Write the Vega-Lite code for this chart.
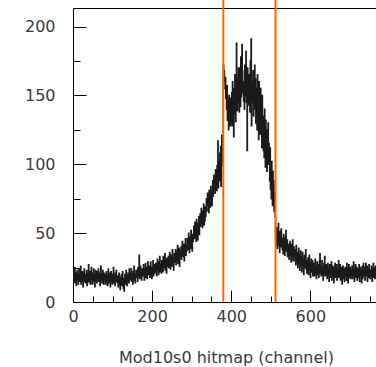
{
"$schema":"https://vega.github.io/schema/vega-lite/v6.json",
"width":303,"height":294,
"autosize":{"type":"none"},
"padding":{"left":73,"top":8,"right":0,"bottom":65},
"background":"white",
"config":{"view":{"stroke":null},"axis":{"grid":false}},
"datasets":{"h":[
{"c":0,"n":18},{"c":1,"n":22},{"c":2,"n":15},{"c":3,"n":19},{"c":4,"n":25},{"c":5,"n":14},{"c":6,"n":17},{"c":7,"n":21},{"c":8,"n":12},{"c":9,"n":19},{"c":10,"n":23},{"c":11,"n":16},{"c":12,"n":20},{"c":13,"n":13},{"c":14,"n":18},{"c":15,"n":24},
{"c":16,"n":15},{"c":17,"n":20},{"c":18,"n":17},{"c":19,"n":26},{"c":20,"n":13},{"c":21,"n":19},{"c":22,"n":16},{"c":23,"n":22},{"c":24,"n":18},{"c":25,"n":11},{"c":26,"n":21},{"c":27,"n":17},{"c":28,"n":24},{"c":29,"n":15},{"c":30,"n":19},{"c":31,"n":14},
{"c":32,"n":20},{"c":33,"n":16},{"c":34,"n":23},{"c":35,"n":12},{"c":36,"n":18},{"c":37,"n":21},{"c":38,"n":15},{"c":39,"n":27},{"c":40,"n":17},{"c":41,"n":14},{"c":42,"n":19},{"c":43,"n":22},{"c":44,"n":13},{"c":45,"n":18},{"c":46,"n":25},{"c":47,"n":16},
{"c":48,"n":19},{"c":49,"n":13},{"c":50,"n":21},{"c":51,"n":17},{"c":52,"n":24},{"c":53,"n":15},{"c":54,"n":20},{"c":55,"n":11},{"c":56,"n":18},{"c":57,"n":23},{"c":58,"n":16},{"c":59,"n":19},{"c":60,"n":14},{"c":61,"n":22},{"c":62,"n":17},{"c":63,"n":20},
{"c":64,"n":24},{"c":65,"n":15},{"c":66,"n":18},{"c":67,"n":21},{"c":68,"n":12},{"c":69,"n":19},{"c":70,"n":26},{"c":71,"n":16},{"c":72,"n":20},{"c":73,"n":14},{"c":74,"n":17},{"c":75,"n":23},{"c":76,"n":18},{"c":77,"n":13},{"c":78,"n":21},{"c":79,"n":19},
{"c":80,"n":16},{"c":81,"n":20},{"c":82,"n":13},{"c":83,"n":18},{"c":84,"n":22},{"c":85,"n":15},{"c":86,"n":19},{"c":87,"n":12},{"c":88,"n":17},{"c":89,"n":24},{"c":90,"n":14},{"c":91,"n":18},{"c":92,"n":21},{"c":93,"n":16},{"c":94,"n":11},{"c":95,"n":19},
{"c":96,"n":22},{"c":97,"n":15},{"c":98,"n":18},{"c":99,"n":13},{"c":100,"n":20},{"c":101,"n":17},{"c":102,"n":25},{"c":103,"n":14},{"c":104,"n":19},{"c":105,"n":16},{"c":106,"n":12},{"c":107,"n":21},{"c":108,"n":17},{"c":109,"n":23},{"c":110,"n":15},{"c":111,"n":18},
{"c":112,"n":14},{"c":113,"n":19},{"c":114,"n":11},{"c":115,"n":17},{"c":116,"n":21},{"c":117,"n":13},{"c":118,"n":16},{"c":119,"n":9},{"c":120,"n":18},{"c":121,"n":15},{"c":122,"n":20},{"c":123,"n":12},{"c":124,"n":16},{"c":125,"n":22},{"c":126,"n":14},{"c":127,"n":10},
{"c":128,"n":17},{"c":129,"n":8},{"c":130,"n":15},{"c":131,"n":20},{"c":132,"n":13},{"c":133,"n":18},{"c":134,"n":23},{"c":135,"n":16},{"c":136,"n":12},{"c":137,"n":19},{"c":138,"n":15},{"c":139,"n":21},{"c":140,"n":17},{"c":141,"n":14},{"c":142,"n":24},{"c":143,"n":18},
{"c":144,"n":21},{"c":145,"n":16},{"c":146,"n":19},{"c":147,"n":24},{"c":148,"n":15},{"c":149,"n":20},{"c":150,"n":17},{"c":151,"n":13},{"c":152,"n":22},{"c":153,"n":18},{"c":154,"n":26},{"c":155,"n":16},{"c":156,"n":20},{"c":157,"n":14},{"c":158,"n":19},{"c":159,"n":23},
{"c":160,"n":18},{"c":161,"n":23},{"c":162,"n":20},{"c":163,"n":15},{"c":164,"n":25},{"c":165,"n":21},{"c":166,"n":19},{"c":167,"n":34},{"c":168,"n":17},{"c":169,"n":22},{"c":170,"n":26},{"c":171,"n":18},{"c":172,"n":21},{"c":173,"n":16},{"c":174,"n":24},{"c":175,"n":20},
{"c":176,"n":23},{"c":177,"n":19},{"c":178,"n":27},{"c":179,"n":21},{"c":180,"n":16},{"c":181,"n":24},{"c":182,"n":20},{"c":183,"n":28},{"c":184,"n":18},{"c":185,"n":22},{"c":186,"n":25},{"c":187,"n":17},{"c":188,"n":23},{"c":189,"n":29},{"c":190,"n":20},{"c":191,"n":24},
{"c":192,"n":21},{"c":193,"n":26},{"c":194,"n":18},{"c":195,"n":24},{"c":196,"n":29},{"c":197,"n":20},{"c":198,"n":23},{"c":199,"n":17},{"c":200,"n":25},{"c":201,"n":22},{"c":202,"n":30},{"c":203,"n":19},{"c":204,"n":24},{"c":205,"n":27},{"c":206,"n":21},{"c":207,"n":26},
{"c":208,"n":22},{"c":209,"n":28},{"c":210,"n":24},{"c":211,"n":19},{"c":212,"n":27},{"c":213,"n":31},{"c":214,"n":23},{"c":215,"n":26},{"c":216,"n":20},{"c":217,"n":29},{"c":218,"n":25},{"c":219,"n":33},{"c":220,"n":22},{"c":221,"n":27},{"c":222,"n":24},{"c":223,"n":21},
{"c":224,"n":30},{"c":225,"n":24},{"c":226,"n":28},{"c":227,"n":22},{"c":228,"n":33},{"c":229,"n":26},{"c":230,"n":29},{"c":231,"n":25},{"c":232,"n":35},{"c":233,"n":23},{"c":234,"n":27},{"c":235,"n":31},{"c":236,"n":21},{"c":237,"n":28},{"c":238,"n":32},{"c":239,"n":26},
{"c":240,"n":27},{"c":241,"n":33},{"c":242,"n":25},{"c":243,"n":30},{"c":244,"n":36},{"c":245,"n":28},{"c":246,"n":24},{"c":247,"n":31},{"c":248,"n":34},{"c":249,"n":26},{"c":250,"n":29},{"c":251,"n":38},{"c":252,"n":27},{"c":253,"n":32},{"c":254,"n":23},{"c":255,"n":30},
{"c":256,"n":35},{"c":257,"n":29},{"c":258,"n":33},{"c":259,"n":38},{"c":260,"n":27},{"c":261,"n":31},{"c":262,"n":36},{"c":263,"n":30},{"c":264,"n":41},{"c":265,"n":28},{"c":266,"n":34},{"c":267,"n":32},{"c":268,"n":39},{"c":269,"n":26},{"c":270,"n":33},{"c":271,"n":37},
{"c":272,"n":34},{"c":273,"n":40},{"c":274,"n":31},{"c":275,"n":37},{"c":276,"n":44},{"c":277,"n":33},{"c":278,"n":38},{"c":279,"n":35},{"c":280,"n":42},{"c":281,"n":30},{"c":282,"n":39},{"c":283,"n":36},{"c":284,"n":46},{"c":285,"n":34},{"c":286,"n":41},{"c":287,"n":37},
{"c":288,"n":40},{"c":289,"n":46},{"c":290,"n":38},{"c":291,"n":43},{"c":292,"n":50},{"c":293,"n":41},{"c":294,"n":36},{"c":295,"n":47},{"c":296,"n":44},{"c":297,"n":39},{"c":298,"n":52},{"c":299,"n":42},{"c":300,"n":45},{"c":301,"n":37},{"c":302,"n":49},{"c":303,"n":44},
{"c":304,"n":48},{"c":305,"n":55},{"c":306,"n":46},{"c":307,"n":51},{"c":308,"n":58},{"c":309,"n":47},{"c":310,"n":53},{"c":311,"n":44},{"c":312,"n":60},{"c":313,"n":50},{"c":314,"n":54},{"c":315,"n":45},{"c":316,"n":57},{"c":317,"n":52},{"c":318,"n":62},{"c":319,"n":49},
{"c":320,"n":58},{"c":321,"n":64},{"c":322,"n":55},{"c":323,"n":61},{"c":324,"n":68},{"c":325,"n":57},{"c":326,"n":63},{"c":327,"n":54},{"c":328,"n":66},{"c":329,"n":60},{"c":330,"n":71},{"c":331,"n":56},{"c":332,"n":65},{"c":333,"n":59},{"c":334,"n":69},{"c":335,"n":62},
{"c":336,"n":68},{"c":337,"n":75},{"c":338,"n":66},{"c":339,"n":72},{"c":340,"n":79},{"c":341,"n":70},{"c":342,"n":74},{"c":343,"n":65},{"c":344,"n":81},{"c":345,"n":71},{"c":346,"n":77},{"c":347,"n":69},{"c":348,"n":84},{"c":349,"n":73},{"c":350,"n":78},{"c":351,"n":70},
{"c":352,"n":80},{"c":353,"n":88},{"c":354,"n":77},{"c":355,"n":85},{"c":356,"n":92},{"c":357,"n":82},{"c":358,"n":87},{"c":359,"n":79},{"c":360,"n":96},{"c":361,"n":84},{"c":362,"n":90},{"c":363,"n":81},{"c":364,"n":99},{"c":365,"n":86},{"c":366,"n":117},{"c":367,"n":83},
{"c":368,"n":94},{"c":369,"n":102},{"c":370,"n":88},{"c":371,"n":108},{"c":372,"n":97},{"c":373,"n":113},{"c":374,"n":84},{"c":375,"n":104},{"c":376,"n":121},{"c":377,"n":99},{"c":378,"n":118},{"c":379,"n":110},
{"c":380,"n":172},{"c":381,"n":165},{"c":382,"n":168},{"c":383,"n":160},{"c":384,"n":155},{"c":385,"n":163},{"c":386,"n":148},{"c":387,"n":152},{"c":388,"n":140},{"c":389,"n":157},{"c":390,"n":132},{"c":391,"n":146},{"c":392,"n":138},{"c":393,"n":125},{"c":394,"n":150},{"c":395,"n":142},{"c":396,"n":135},{"c":397,"n":128},{"c":398,"n":148},{"c":399,"n":130},
{"c":400,"n":135},{"c":401,"n":152},{"c":402,"n":128},{"c":403,"n":160},{"c":404,"n":141},{"c":405,"n":148},{"c":406,"n":120},{"c":407,"n":155},{"c":408,"n":137},{"c":409,"n":165},{"c":410,"n":143},{"c":411,"n":131},{"c":412,"n":158},{"c":413,"n":188},{"c":414,"n":150},{"c":415,"n":139},
{"c":416,"n":162},{"c":417,"n":145},{"c":418,"n":170},{"c":419,"n":150},{"c":420,"n":138},{"c":421,"n":170},{"c":422,"n":155},{"c":423,"n":142},{"c":424,"n":178},{"c":425,"n":149},{"c":426,"n":160},{"c":427,"n":187},{"c":428,"n":168},{"c":429,"n":152},{"c":430,"n":160},{"c":431,"n":146},
{"c":432,"n":158},{"c":433,"n":140},{"c":434,"n":172},{"c":435,"n":150},{"c":436,"n":165},{"c":437,"n":182},{"c":438,"n":145},{"c":439,"n":155},{"c":440,"n":110},{"c":441,"n":170},{"c":442,"n":160},{"c":443,"n":143},{"c":444,"n":165},{"c":445,"n":152},{"c":446,"n":165},{"c":447,"n":138},
{"c":448,"n":175},{"c":449,"n":150},{"c":450,"n":191},{"c":451,"n":128},{"c":452,"n":160},{"c":453,"n":155},{"c":454,"n":145},{"c":455,"n":168},{"c":456,"n":135},{"c":457,"n":158},{"c":458,"n":150},{"c":459,"n":172},{"c":460,"n":140},{"c":461,"n":162},{"c":462,"n":130},{"c":463,"n":155},
{"c":464,"n":148},{"c":465,"n":125},{"c":466,"n":165},{"c":467,"n":138},{"c":468,"n":152},{"c":469,"n":118},{"c":470,"n":160},{"c":471,"n":135},{"c":472,"n":145},{"c":473,"n":122},{"c":474,"n":155},{"c":475,"n":130},{"c":476,"n":142},{"c":477,"n":112},{"c":478,"n":150},{"c":479,"n":128},
{"c":480,"n":135},{"c":481,"n":110},{"c":482,"n":128},{"c":483,"n":105},{"c":484,"n":140},{"c":485,"n":118},{"c":486,"n":98},{"c":487,"n":132},{"c":488,"n":112},{"c":489,"n":125},{"c":490,"n":95},{"c":491,"n":120},{"c":492,"n":108},{"c":493,"n":130},{"c":494,"n":100},{"c":495,"n":115},
{"c":496,"n":105},{"c":497,"n":88},{"c":498,"n":112},{"c":499,"n":82},{"c":500,"n":98},{"c":501,"n":75},{"c":502,"n":102},{"c":503,"n":85},{"c":504,"n":70},{"c":505,"n":95},{"c":506,"n":78},{"c":507,"n":88},{"c":508,"n":66},{"c":509,"n":80},{"c":510,"n":72},{"c":511,"n":62},
{"c":512,"n":50},{"c":513,"n":42},{"c":514,"n":54},{"c":515,"n":47},{"c":516,"n":39},{"c":517,"n":52},{"c":518,"n":44},{"c":519,"n":57},{"c":520,"n":41},{"c":521,"n":48},{"c":522,"n":36},{"c":523,"n":51},{"c":524,"n":45},{"c":525,"n":40},{"c":526,"n":53},{"c":527,"n":43},
{"c":528,"n":46},{"c":529,"n":38},{"c":530,"n":44},{"c":531,"n":35},{"c":532,"n":49},{"c":533,"n":40},{"c":534,"n":43},{"c":535,"n":34},{"c":536,"n":47},{"c":537,"n":39},{"c":538,"n":52},{"c":539,"n":37},{"c":540,"n":41},{"c":541,"n":45},{"c":542,"n":33},{"c":543,"n":42},
{"c":544,"n":35},{"c":545,"n":41},{"c":546,"n":31},{"c":547,"n":38},{"c":548,"n":44},{"c":549,"n":34},{"c":550,"n":39},{"c":551,"n":29},{"c":552,"n":42},{"c":553,"n":36},{"c":554,"n":33},{"c":555,"n":45},{"c":556,"n":30},{"c":557,"n":37},{"c":558,"n":40},{"c":559,"n":32},
{"c":560,"n":38},{"c":561,"n":30},{"c":562,"n":35},{"c":563,"n":27},{"c":564,"n":41},{"c":565,"n":33},{"c":566,"n":29},{"c":567,"n":36},{"c":568,"n":25},{"c":569,"n":32},{"c":570,"n":39},{"c":571,"n":28},{"c":572,"n":34},{"c":573,"n":23},{"c":574,"n":31},{"c":575,"n":37},
{"c":576,"n":27},{"c":577,"n":33},{"c":578,"n":22},{"c":579,"n":30},{"c":580,"n":36},{"c":581,"n":26},{"c":582,"n":31},{"c":583,"n":20},{"c":584,"n":29},{"c":585,"n":34},{"c":586,"n":25},{"c":587,"n":28},{"c":588,"n":38},{"c":589,"n":24},{"c":590,"n":30},{"c":591,"n":21},
{"c":592,"n":29},{"c":593,"n":24},{"c":594,"n":32},{"c":595,"n":20},{"c":596,"n":27},{"c":597,"n":34},{"c":598,"n":23},{"c":599,"n":28},{"c":600,"n":18},{"c":601,"n":26},{"c":602,"n":31},{"c":603,"n":22},{"c":604,"n":25},{"c":605,"n":30},{"c":606,"n":19},{"c":607,"n":27},
{"c":608,"n":22},{"c":609,"n":28},{"c":610,"n":19},{"c":611,"n":25},{"c":612,"n":31},{"c":613,"n":21},{"c":614,"n":26},{"c":615,"n":17},{"c":616,"n":24},{"c":617,"n":29},{"c":618,"n":20},{"c":619,"n":27},{"c":620,"n":23},{"c":621,"n":18},{"c":622,"n":26},{"c":623,"n":30},
{"c":624,"n":35},{"c":625,"n":21},{"c":626,"n":26},{"c":627,"n":19},{"c":628,"n":24},{"c":629,"n":30},{"c":630,"n":20},{"c":631,"n":25},{"c":632,"n":16},{"c":633,"n":23},{"c":634,"n":28},{"c":635,"n":21},{"c":636,"n":33},{"c":637,"n":19},{"c":638,"n":24},{"c":639,"n":27},
{"c":640,"n":20},{"c":641,"n":26},{"c":642,"n":17},{"c":643,"n":23},{"c":644,"n":28},{"c":645,"n":19},{"c":646,"n":24},{"c":647,"n":15},{"c":648,"n":22},{"c":649,"n":27},{"c":650,"n":18},{"c":651,"n":25},{"c":652,"n":21},{"c":653,"n":29},{"c":654,"n":16},{"c":655,"n":23},
{"c":656,"n":26},{"c":657,"n":19},{"c":658,"n":22},{"c":659,"n":14},{"c":660,"n":25},{"c":661,"n":21},{"c":662,"n":28},{"c":663,"n":18},{"c":664,"n":23},{"c":665,"n":20},{"c":666,"n":27},{"c":667,"n":16},{"c":668,"n":24},{"c":669,"n":19},{"c":670,"n":22},{"c":671,"n":30},
{"c":672,"n":18},{"c":673,"n":24},{"c":674,"n":21},{"c":675,"n":27},{"c":676,"n":16},{"c":677,"n":23},{"c":678,"n":19},{"c":679,"n":25},{"c":680,"n":13},{"c":681,"n":22},{"c":682,"n":26},{"c":683,"n":17},{"c":684,"n":21},{"c":685,"n":24},{"c":686,"n":15},{"c":687,"n":20},
{"c":688,"n":25},{"c":689,"n":19},{"c":690,"n":23},{"c":691,"n":16},{"c":692,"n":28},{"c":693,"n":20},{"c":694,"n":22},{"c":695,"n":14},{"c":696,"n":24},{"c":697,"n":27},{"c":698,"n":18},{"c":699,"n":21},{"c":700,"n":25},{"c":701,"n":17},{"c":702,"n":23},{"c":703,"n":19},
{"c":704,"n":21},{"c":705,"n":26},{"c":706,"n":17},{"c":707,"n":23},{"c":708,"n":19},{"c":709,"n":29},{"c":710,"n":22},{"c":711,"n":15},{"c":712,"n":24},{"c":713,"n":20},{"c":714,"n":27},{"c":715,"n":18},{"c":716,"n":22},{"c":717,"n":25},{"c":718,"n":16},{"c":719,"n":21},
{"c":720,"n":24},{"c":721,"n":18},{"c":722,"n":22},{"c":723,"n":27},{"c":724,"n":15},{"c":725,"n":21},{"c":726,"n":25},{"c":727,"n":19},{"c":728,"n":23},{"c":729,"n":14},{"c":730,"n":20},{"c":731,"n":26},{"c":732,"n":17},{"c":733,"n":22},{"c":734,"n":28},{"c":735,"n":19},
{"c":736,"n":20},{"c":737,"n":25},{"c":738,"n":16},{"c":739,"n":23},{"c":740,"n":28},{"c":741,"n":19},{"c":742,"n":22},{"c":743,"n":26},{"c":744,"n":15},{"c":745,"n":21},{"c":746,"n":24},{"c":747,"n":18},{"c":748,"n":27},{"c":749,"n":20},{"c":750,"n":23},{"c":751,"n":17},
{"c":752,"n":23},{"c":753,"n":19},{"c":754,"n":26},{"c":755,"n":21},{"c":756,"n":15},{"c":757,"n":24},{"c":758,"n":20},{"c":759,"n":28},{"c":760,"n":18},{"c":761,"n":22},{"c":762,"n":25},{"c":763,"n":17},{"c":764,"n":21},{"c":765,"n":26},{"c":766,"n":19},{"c":767,"n":23}
]},
"layer":[
{
"data":{"name":"h"},
"mark":{"type":"line","interpolate":"step-after","color":"#1a1a1a","strokeWidth":1.4,"clip":true},
"encoding":{
"x":{"field":"c","type":"quantitative","scale":{"domain":[0,766],"nice":false,"zero":false},
"axis":{"orient":"bottom","values":[0,200,400,600],"format":"d","tickSize":-12,"tickColor":"#000","tickWidth":1,"domainColor":"#000","domainWidth":1,"labelFont":"DejaVu Sans","labelFontSize":16,"labelColor":"#3a3a3a","labelPadding":18,"labelFlush":false,"labelOverlap":false,"grid":false,"title":"Mod10s0 hitmap (channel)","titleFont":"DejaVu Sans","titleFontSize":16,"titleFontWeight":"normal","titleColor":"#3a3a3a","titleX":153,"titleY":60,"titleAlign":"center","titleBaseline":"alphabetic"}},
"y":{"field":"n","type":"quantitative","scale":{"domain":[0,213.5],"nice":false,"zero":false},
"axis":{"orient":"left","values":[0,50,100,150,200],"format":"d","tickSize":-13,"tickColor":"#000","tickWidth":1,"domainColor":"#000","domainWidth":1,"labelFont":"DejaVu Sans","labelFontSize":16,"labelColor":"#3a3a3a","labelPadding":31,"labelFlush":false,"labelOverlap":false,"grid":false,"title":null}}
}
},
{
"data":{"values":[{"x":380}]},
"mark":{"type":"rule","color":"#ff6600","strokeWidth":2,"clip":false},
"encoding":{
"x":{"field":"x","type":"quantitative","scale":{"domain":[0,766],"nice":false,"zero":false},
"axis":{"orient":"bottom","values":[50,100,150,250,300,350,450,500,550,650,700,750],"tickSize":-6,"tickColor":"#000","tickWidth":1,"labels":false,"domain":false,"grid":false,"title":null}},
"y":{"datum":0,"type":"quantitative","scale":{"domain":[0,213.5],"nice":false,"zero":false},
"axis":{"orient":"left","values":[25,75,125,175],"tickSize":-7,"tickColor":"#000","tickWidth":1,"labels":false,"domain":false,"grid":false,"title":null}},
"y2":{"datum":222}
}
},
{
"data":{"values":[{"x":512}]},
"mark":{"type":"rule","color":"#ff6600","strokeWidth":2,"clip":false},
"encoding":{
"x":{"field":"x","type":"quantitative","scale":{"domain":[0,766],"nice":false,"zero":false},
"axis":{"orient":"top","ticks":false,"labels":false,"domain":true,"domainColor":"#000","domainWidth":1,"grid":false,"title":null}},
"y":{"datum":0,"type":"quantitative","scale":{"domain":[0,213.5],"nice":false,"zero":false},"axis":null},
"y2":{"datum":222}
}
}
],
"resolve":{"axis":{"x":"independent","y":"independent"}}
}
